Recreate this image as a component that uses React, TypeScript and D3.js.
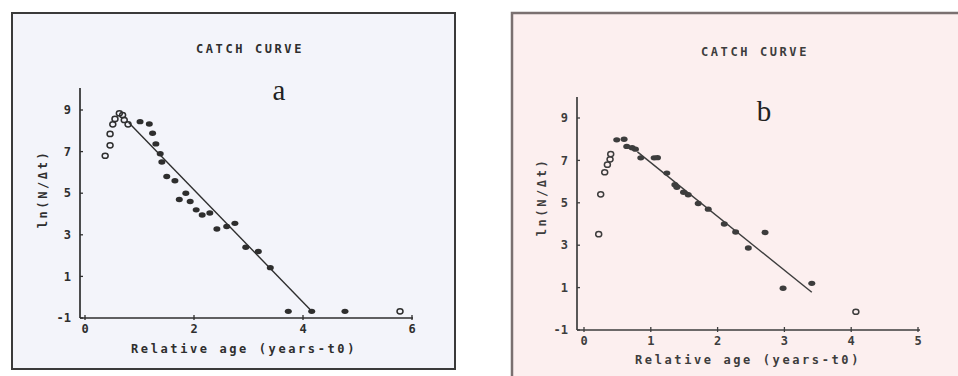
import React from "react";
import * as d3 from "d3";

// ---- Panel a data ----
const aOpenX = [0.37, 0.46, 0.46, 0.51, 0.55, 0.63, 0.69, 0.72, 0.79, 5.78];
const aOpenY = [6.8, 7.3, 7.85, 8.31, 8.57, 8.84, 8.76, 8.52, 8.31, -0.68];
const aFilledX = [1.01, 1.18, 1.24, 1.3, 1.38, 1.41, 1.5, 1.65, 1.73, 1.85, 1.93, 2.04, 2.15, 2.29, 2.42, 2.6, 2.75, 2.95, 3.18, 3.4, 3.73, 4.16, 4.77];
const aFilledY = [8.44, 8.33, 7.88, 7.37, 6.9, 6.5, 5.8, 5.6, 4.7, 5.0, 4.6, 4.2, 3.95, 4.05, 3.28, 3.4, 3.55, 2.4, 2.2, 1.42, -0.68, -0.68, -0.68];
const aLineX = [0.8, 4.17];
const aLineY = [8.4, -0.7];
const aXTicks = [0, 2, 4, 6];

// ---- Panel b data ----
const bOpenX = [0.22, 0.25, 0.31, 0.35, 0.39, 0.4, 4.07];
const bOpenY = [3.52, 5.4, 6.44, 6.8, 7.05, 7.3, -0.14];
const bFilledX = [0.49, 0.6, 0.64, 0.72, 0.77, 0.85, 1.05, 1.1, 1.24, 1.36, 1.39, 1.49, 1.56, 1.71, 1.86, 2.1, 2.27, 2.46, 2.71, 2.98, 3.41];
const bFilledY = [7.97, 8.0, 7.66, 7.6, 7.53, 7.12, 7.12, 7.13, 6.4, 5.85, 5.73, 5.5, 5.38, 4.97, 4.7, 4.0, 3.62, 2.87, 3.6, 0.97, 1.2];
const bLineX = [0.8, 3.41];
const bLineY = [7.4, 0.78];
const bXTicks = [0, 1, 2, 3, 4, 5];

const yTicks = [-1, 1, 3, 5, 7, 9];
const titleText = "CATCH CURVE";
const xTitle = "Relative age (years-t0)";
const yTitle = "ln(N/\u0394t)";

const mono = "'DejaVu Sans Mono', 'Liberation Mono', monospace";

type PanelProps = {
  openX: number[]; openY: number[]; filledX: number[]; filledY: number[];
  lineX: number[]; lineY: number[]; xTicks: number[];
  xRange: [number, number]; yRange: [number, number]; xMax: number;
  axisX: number; axisTop: number; axisRight: number;
  letter: string; letterPos: [number, number];
  titlePos: [number, number]; xTitlePos: [number, number]; yTitlePos: [number, number];
  ink: string;
};

function Panel(p: PanelProps) {
  const x = d3.scaleLinear().domain([0, p.xMax]).range(p.xRange);
  const y = d3.scaleLinear().domain([-1, 9]).range(p.yRange);
  const y0 = y(-1);
  const line = d3.line<number>().x((_, i) => x(p.lineX[i])).y((_, i) => y(p.lineY[i]));
  const textStyle = { fontFamily: mono, fontWeight: 700, fontSize: 12, letterSpacing: 2.6 } as const;
  const tickStyle = { fontFamily: mono, fontWeight: 700, fontSize: 12 } as const;
  return (
    <g>
      <line x1={p.axisX} x2={p.axisX} y1={p.axisTop} y2={y0} stroke={p.ink} strokeWidth={1.7} />
      <line x1={p.axisX} x2={p.axisRight} y1={y0} y2={y0} stroke={p.ink} strokeWidth={1.7} />
      {yTicks.map((t) => (
        <g key={"yt" + t}>
          <line x1={p.axisX} x2={p.axisX + 3} y1={y(t)} y2={y(t)} stroke={p.ink} strokeWidth={1.3} />
          <text x={p.axisX - 9} y={y(t)} dy="0.35em" textAnchor="end" fill={p.ink} style={tickStyle}>{t}</text>
        </g>
      ))}
      {p.xTicks.map((t) => (
        <g key={"xt" + t}>
          <line x1={x(t)} x2={x(t)} y1={y0 - 3} y2={y0 + 2} stroke={p.ink} strokeWidth={1.3} />
          <text x={x(t)} y={y0 + 15} textAnchor="middle" fill={p.ink} style={tickStyle}>{t}</text>
        </g>
      ))}
      <path d={line(p.lineX) || ""} fill="none" stroke={p.ink} strokeWidth={1.4} />
      {p.openX.map((v, i) => (
        <ellipse key={"o" + i} cx={x(v)} cy={y(p.openY[i])} rx={3} ry={2.6} fill="none" stroke={p.ink} strokeWidth={1.5} />
      ))}
      {p.filledX.map((v, i) => (
        <ellipse key={"f" + i} cx={x(v)} cy={y(p.filledY[i])} rx={3.5} ry={2.7} fill={p.ink} />
      ))}
      <text x={p.titlePos[0]} y={p.titlePos[1]} textAnchor="middle" fill={p.ink} style={textStyle}>{titleText}</text>
      <text x={p.xTitlePos[0]} y={p.xTitlePos[1]} textAnchor="middle" fill={p.ink} style={textStyle}>{xTitle}</text>
      <text transform={`translate(${p.yTitlePos[0]},${p.yTitlePos[1]}) rotate(-90)`} textAnchor="middle" fill={p.ink} style={textStyle}>{yTitle}</text>
      <text x={p.letterPos[0]} y={p.letterPos[1]} textAnchor="middle" fill="#222"
        style={{ fontFamily: "'Liberation Serif', 'DejaVu Serif', serif", fontSize: 29 }}>{p.letter}</text>
    </g>
  );
}

export default function App() {
  return (
    <svg width={958} height={376} style={{ position: "absolute", left: 0, top: 0, background: "#fff" }}>
      <rect x={12} y={13} width={443} height={356} fill="#f3f4fa" stroke="#3a3a3a" strokeWidth={2} />
      <rect x={512} y={13} width={450} height={370} fill="#fcefef" stroke="#7a7070" strokeWidth={2.5} />
      <Panel
        openX={aOpenX} openY={aOpenY} filledX={aFilledX} filledY={aFilledY}
        lineX={aLineX} lineY={aLineY} xTicks={aXTicks}
        xRange={[85, 412]} yRange={[318, 110]} xMax={6}
        axisX={80} axisTop={88} axisRight={413}
        letter="a" letterPos={[279, 100]}
        titlePos={[250, 53]} xTitlePos={[244, 353]} yTitlePos={[47, 189]}
        ink="#2e2e2e"
      />
      <Panel
        openX={bOpenX} openY={bOpenY} filledX={bFilledX} filledY={bFilledY}
        lineX={bLineX} lineY={bLineY} xTicks={bXTicks}
        xRange={[584, 918]} yRange={[330, 118]} xMax={5}
        axisX={577} axisTop={97} axisRight={920}
        letter="b" letterPos={[764, 121]}
        titlePos={[755, 56]} xTitlePos={[748, 364]} yTitlePos={[546, 197]}
        ink="#3d3d3d"
      />
    </svg>
  );
}
